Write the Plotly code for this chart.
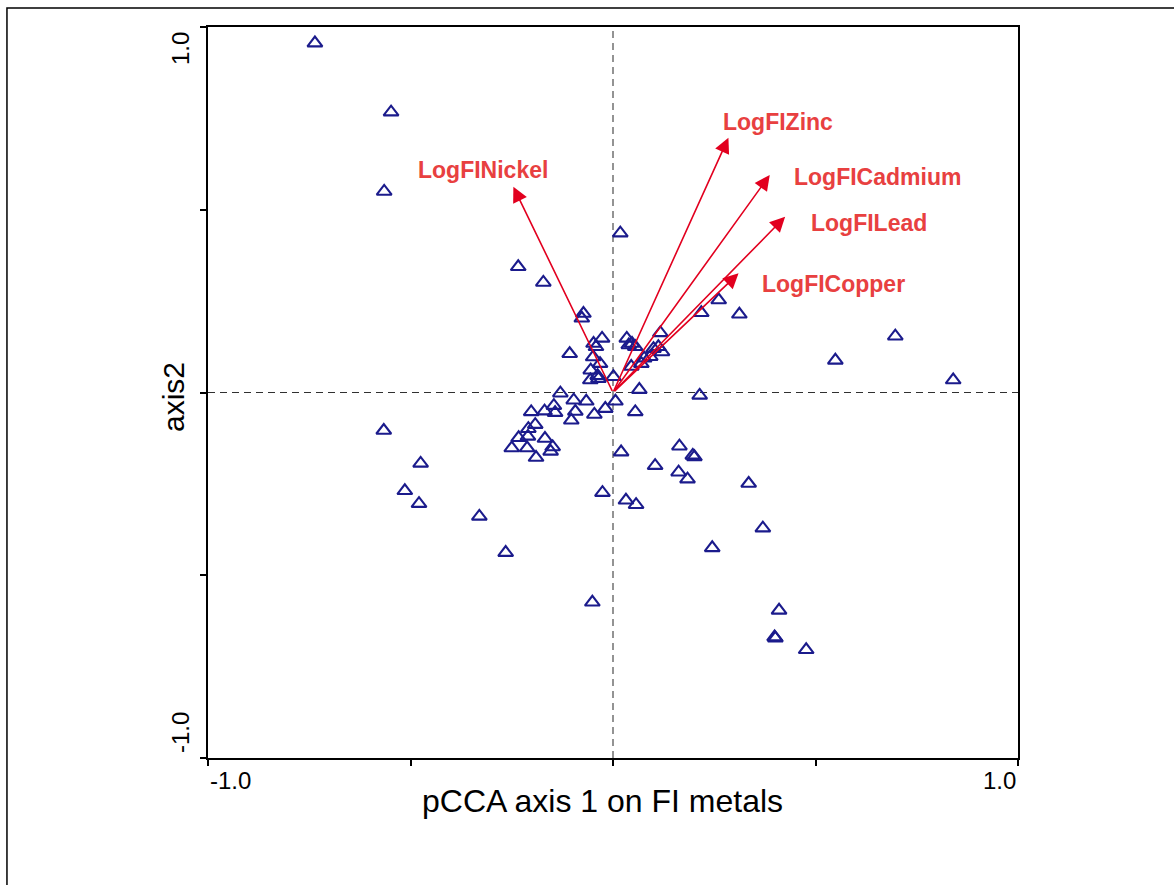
import plotly.graph_objects as go

# Site scores on pCCA axes 1 and 2
site_x = [-0.736, -0.548, -0.565, 0.018, -0.234, -0.172, -0.073, -0.077, 0.218, 0.261,
          0.312, 0.549, 0.697, 0.840, 0.214, -0.566, -0.475, -0.514, -0.479, -0.330,
          -0.265, -0.051, -0.026, 0.032, 0.057, 0.020, 0.104, 0.164, 0.197, 0.201,
          0.162, 0.184, 0.335, 0.370, 0.245, 0.410, 0.401, 0.399, 0.477,
          -0.130, -0.097, -0.066, 0.006, -0.019, -0.046, 0.055, 0.065, -0.146, -0.202,
          -0.169, -0.143, -0.093, -0.103, -0.192, -0.209, -0.233, -0.210, -0.168, -0.250,
          -0.212, -0.149, -0.154, -0.190,
          -0.027, -0.048, -0.042, 0.034, 0.047, 0.055, 0.039, -0.107, -0.049, -0.032,
          -0.055, -0.038, -0.056, -0.036, 0.001, 0.117, 0.100, 0.112, 0.121, 0.092,
          0.070, 0.045, 0.077]
site_y = [0.956, 0.767, 0.550, 0.436, 0.344, 0.301, 0.216, 0.203, 0.218, 0.253,
          0.214, 0.088, 0.154, 0.034, -0.008, -0.104, -0.194, -0.269, -0.304, -0.339,
          -0.438, -0.574, -0.274, -0.295, -0.307, -0.163, -0.200, -0.147, -0.172, -0.176,
          -0.218, -0.237, -0.249, -0.371, -0.425, -0.596, -0.672, -0.669, -0.704,
          -0.002, -0.021, -0.024, -0.024, -0.044, -0.060, -0.053, 0.008, -0.036, -0.053,
          -0.051, -0.055, -0.052, -0.076, -0.088, -0.099, -0.124, -0.120, -0.126, -0.152,
          -0.152, -0.149, -0.161, -0.178,
          0.148, 0.134, 0.125, 0.148, 0.134, 0.125, 0.130, 0.106, 0.097, 0.079,
          0.061, 0.046, 0.034, 0.038, 0.043, 0.163, 0.120, 0.125, 0.111, 0.098,
          0.079, 0.071, 0.094]

# Biplot arrows for the metal variables
metals = ["LogFINickel", "LogFIZinc", "LogFICadmium", "LogFILead", "LogFICopper"]
arrow_x = [-0.246, 0.285, 0.387, 0.425, 0.310]
arrow_y = [0.563, 0.697, 0.595, 0.481, 0.326]
label_x = [-0.321, 0.408, 0.653, 0.633, 0.545]
label_y = [0.609, 0.741, 0.590, 0.463, 0.296]

axis_ticks = [-1.0, -0.5, 0.0, 0.5, 1.0]

font_family = "Liberation Sans, Arial, sans-serif"
arrow_color = "#E2001F"
label_color = "#E84040"

fig = go.Figure()

fig.add_trace(go.Scatter(
    x=site_x, y=site_y,
    mode="markers",
    marker=dict(symbol="triangle-up-open", size=13, color="#1B1B8C",
                line=dict(width=2.1, color="#1B1B8C")),
    showlegend=False,
    hoverinfo="x+y"
))

annotations = []
for name, ax_, ay_, lx, ly in zip(metals, arrow_x, arrow_y, label_x, label_y):
    annotations.append(dict(
        x=ax_, y=ay_, ax=0, ay=0, xref="x", yref="y", axref="x", ayref="y",
        text="", showarrow=True, arrowhead=2, arrowsize=1.9, arrowwidth=1.6,
        arrowcolor=arrow_color, standoff=0, startstandoff=0
    ))
    annotations.append(dict(
        x=lx, y=ly, xref="x", yref="y", text="<b>" + name + "</b>", showarrow=False,
        font=dict(family=font_family, size=23, color=label_color)
    ))

# tick labels only at the ends, aligned inwards
annotations += [
    dict(x=-1.0, y=0, xref="x", yref="paper", text="-1.0", showarrow=False,
         xanchor="left", yanchor="top", yshift=-7, font=dict(size=24)),
    dict(x=1.0, y=0, xref="x", yref="paper", text="1.0", showarrow=False,
         xanchor="right", yanchor="top", yshift=-7, font=dict(size=24)),
    dict(x=0, y=1.0, xref="paper", yref="y", text="1.0", showarrow=False, textangle=-90,
         xanchor="right", yanchor="top", xshift=-12, yshift=-3, font=dict(size=24)),
    dict(x=0, y=-1.0, xref="paper", yref="y", text="-1.0", showarrow=False, textangle=-90,
         xanchor="right", yanchor="bottom", xshift=-12, yshift=3, font=dict(size=24)),
    dict(x=-0.025, y=0, xref="x", yref="paper", text="pCCA axis 1 on FI metals",
         showarrow=False, yanchor="top", yshift=-23, font=dict(size=32)),
    dict(x=0, y=0.0, xref="paper", yref="y", text="axis2", showarrow=False,
         textangle=-90, xanchor="right", xshift=-16, yshift=-5, font=dict(size=30)),
]

shapes = [
    # dashed zero lines
    dict(type="line", xref="x", yref="y", x0=0, x1=0, y0=-1, y1=1,
         line=dict(color="#707070", width=1.5, dash="7px,5px"), layer="below"),
    dict(type="line", xref="x", yref="y", x0=-1, x1=1, y0=0, y1=0,
         line=dict(color="#303030", width=1.2, dash="7px,5px"), layer="below"),
    # outer frame of the figure
    dict(type="rect", xref="paper", yref="paper", x0=-0.2482, x1=1.4, y0=-0.4, y1=1.026,
         line=dict(color="black", width=1.5)),
]

axis_style = dict(
    range=[-1.0, 1.0], tickvals=axis_ticks, showticklabels=False,
    ticks="outside", ticklen=6, tickwidth=1.5, tickcolor="black",
    showline=True, linecolor="black", linewidth=1.8, mirror=True,
    showgrid=False, zeroline=False, fixedrange=True
)

fig.update_layout(
    width=1174, height=885,
    margin=dict(l=208, r=156, t=27, b=127),
    plot_bgcolor="white", paper_bgcolor="white",
    font=dict(family=font_family, color="black"),
    xaxis=axis_style, yaxis=axis_style,
    annotations=annotations, shapes=shapes
)

# drop the default page margin so the figure sits at the window corner
fig.write_html("out.html", config={"displayModeBar": False},
               post_script="document.body.style.margin='0';")
